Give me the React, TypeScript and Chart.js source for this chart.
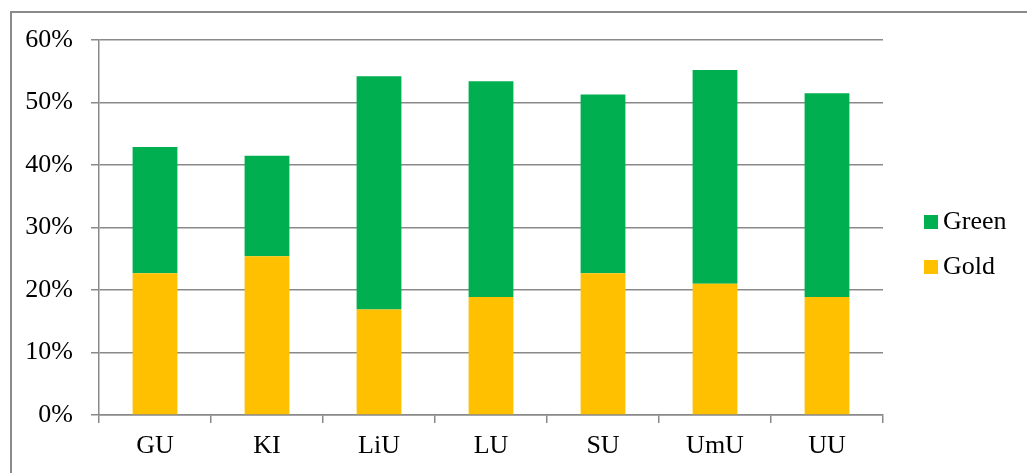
import React, { useEffect, useRef } from "react";
import { Chart, registerables } from "chart.js";

Chart.register(...registerables);

const categories = ["GU", "KI", "LiU", "LU", "SU", "UmU", "UU"];
const goldValues = [22.7, 25.4, 16.9, 18.9, 22.7, 21.0, 18.9];
const greenValues = [20.2, 16.1, 37.3, 34.5, 28.6, 34.2, 32.6];
const yTickValues = [0, 10, 20, 30, 40, 50, 60];

const GOLD = "#FFC000";
const GREEN = "#00B050";
const GRID = "#898989";
const FONT = "Liberation Serif";
const FONT_SIZE = 26;

const legendPlugin = {
  id: "customLegend",
  afterDraw(chart: any) {
    const { ctx, chartArea } = chart;
    const items = [
      { label: "Green", color: GREEN, dy: 182 },
      { label: "Gold", color: GOLD, dy: 227 },
    ];
    ctx.save();
    ctx.font = `${FONT_SIZE}px "${FONT}"`;
    ctx.textBaseline = "middle";
    ctx.textAlign = "left";
    items.forEach((it) => {
      const cx = chartArea.right + 41;
      const cy = chartArea.top + it.dy;
      ctx.fillStyle = it.color;
      ctx.fillRect(cx, cy - 7, 14, 14);
      ctx.fillStyle = "#000";
      ctx.fillText(it.label, cx + 19, cy);
    });
    ctx.restore();
  },
};

export default function App() {
  const canvasRef = useRef<HTMLCanvasElement | null>(null);

  useEffect(() => {
    let chart: any = null;
    let cancelled = false;
    const build = () => {
      if (cancelled || !canvasRef.current) return;
      chart = new Chart(canvasRef.current, {
        type: "bar",
        data: {
          labels: categories,
          datasets: [
            {
              label: "Gold",
              data: goldValues,
              backgroundColor: GOLD,
              borderWidth: 0,
              barPercentage: 0.4,
              categoryPercentage: 1,
            },
            {
              label: "Green",
              data: greenValues,
              backgroundColor: GREEN,
              borderWidth: 0,
              barPercentage: 0.4,
              categoryPercentage: 1,
            },
          ],
        },
        options: {
          animation: false,
          responsive: false,
          maintainAspectRatio: false,
          layout: { padding: { top: 40, right: 144, left: 0, bottom: 0 } },
          plugins: {
            legend: { display: false },
            tooltip: { enabled: false },
          },
          scales: {
            x: {
              stacked: true,
              grid: {
                display: true,
                drawOnChartArea: false,
                drawTicks: true,
                tickLength: 8,
                offset: true,
                color: GRID,
                lineWidth: 1.5,
              },
              border: { display: true, color: GRID, width: 1.5 },
              ticks: {
                color: "#000",
                font: { family: FONT, size: FONT_SIZE },
                padding: 8,
                maxRotation: 0,
              },
              afterFit: (s: any) => {
                s.height = 58;
              },
            },
            y: {
              stacked: true,
              min: 0,
              max: 60,
              afterBuildTicks: (s: any) => {
                s.ticks = yTickValues.map((v) => ({ value: v }));
              },
              grid: {
                color: GRID,
                lineWidth: 1.5,
                tickLength: 8,
              },
              border: { display: true, color: GRID, width: 1.5 },
              ticks: {
                color: "#000",
                font: { family: FONT, size: FONT_SIZE },
                padding: 18,
                callback: (v: any) => `${v}%`,
              },
              afterFit: (s: any) => {
                s.width = 99;
              },
            },
          },
        },
        plugins: [legendPlugin],
      });
    };
    const fontsApi = (document as any).fonts;
    if (fontsApi && fontsApi.load) {
      fontsApi.load(`${FONT_SIZE}px "${FONT}"`).then(build, build);
    } else {
      build();
    }
    return () => {
      cancelled = true;
      if (chart) chart.destroy();
    };
  }, []);

  return (
    <div
      style={{
        position: "absolute",
        left: 0,
        top: 0,
        width: 1027,
        height: 473,
        overflow: "hidden",
        background: "#fff",
      }}
    >
      <div
        style={{
          position: "absolute",
          left: 10,
          top: 11,
          width: 1040,
          height: 480,
          border: "2px solid #8a8a8a",
          boxSizing: "border-box",
        }}
      />
      <canvas
        ref={canvasRef}
        width={1027}
        height={473}
        style={{ position: "absolute", left: 0, top: 0, width: 1027, height: 473 }}
      />
    </div>
  );
}
